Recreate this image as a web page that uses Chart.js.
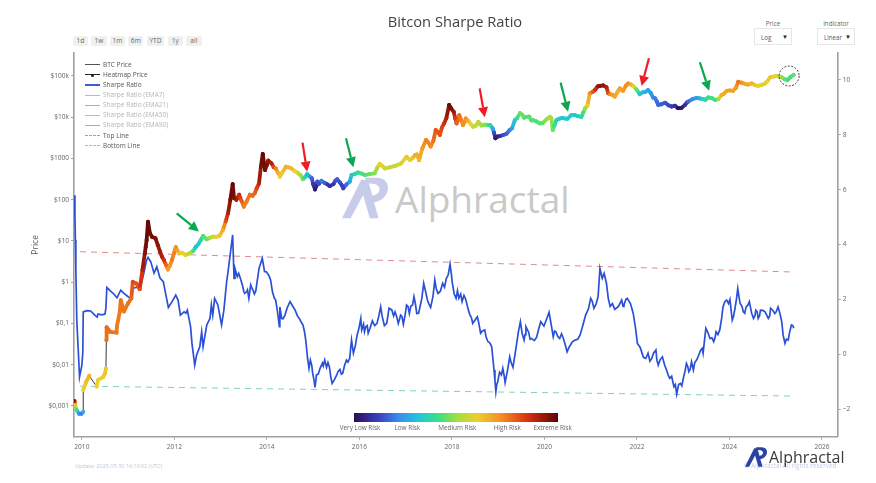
<!DOCTYPE html>
<html>
<head>
<meta charset="utf-8">
<title>Bitcon Sharpe Ratio</title>
<script src="https://cdn.jsdelivr.net/npm/chart.js@4"></script>
<style>
html, body { margin: 0; padding: 0; background: #fff; }
body { width: 876px; height: 483px; overflow: hidden; position: relative; font-family: "Open Sans", sans-serif; }
#chart { position: absolute; left: 0; top: 0; z-index: 2; }
.abs { position: absolute; white-space: nowrap; }
#title { left: 0; width: 910px; top: 11px; text-align: center; font-size: 14.7px; color: #444; z-index: 3; }
.rng { top: 36px; height: 10px; line-height: 10px; background: #f0f0f0; border-radius: 2px; color: #666; font-size: 6.6px; text-align: center; }
.sel-label { top: 19px; font-size: 6.2px; color: #666; text-align: center; }
.sel { top: 28px; height: 17px; line-height: 17px; border: 1px solid #e6e6e6; box-sizing: border-box; font-size: 6.2px; color: #555; padding-left: 6px; }
.sel i { position: absolute; right: 3px; top: 0; font-style: normal; font-size: 6px; color: #222; }
.lg-row { left: 103px; font-size: 6.5px; line-height: 10px; color: #555; z-index: 3; }
.lg-off { color: #b4b4b4; }
.lg-line { left: 84.5px; width: 15.5px; height: 0; z-index: 3; }
.lg-dot { left: 90.5px; width: 3px; height: 3px; border-radius: 50%; background: #222; z-index: 3; }
#wm-text { left: 395px; top: 175px; font-size: 37px; line-height: 48px; color: #c9c9c9; font-family: "Open Sans", sans-serif; z-index: 1; }
#wm-logo { left: 342px; top: 177px; width: 48px; height: 42px; z-index: 1; }
#bar { left: 354.3px; top: 413.3px; width: 203.4px; height: 8.4px; z-index: 3; }
.bar-lab { top: 423px; font-size: 6.4px; line-height: 9px; color: #666; transform: translateX(-50%); z-index: 3; }
#update { left: 75px; top: 462px; font-size: 5.4px; line-height: 8px; color: #bcc8dc; }
#logo { left: 745px; top: 447px; width: 23px; height: 20px; z-index: 3; }
#logo-text { left: 769px; top: 445px; font-size: 16px; line-height: 24px; color: #3a3a3a; z-index: 3; }
#rights { left: 744px; top: 461px; font-size: 6.4px; line-height: 9px; color: #c3cde0; z-index: 2; }
</style>
</head>
<body>
<svg id="wm-logo" class="abs" viewBox="0 0 50 42"><path fill="#c6cce9" d="M0 42L20 2L27 2L38 42L29 42L22 18L9 42Z"/><path fill="#c6cce9" d="M24 0L36 0C46 0 50 8 47 15C44 23 36 26 28 26L26 19C32 19 38 18 39 13C40 9 36 6 30 6L26 6Z"/></svg>
<div id="wm-text" class="abs">Alphractal</div>
<canvas id="chart" width="876" height="483"></canvas>
<div id="title" class="abs">Bitcon Sharpe Ratio</div>
<div id="controls"></div>
<div id="legend"></div>
<div id="bar" class="abs"></div>
<div id="bar-labels"></div>
<div id="update" class="abs">Update: 2025-05-30 16:10:02 (UTC)</div>
<div id="rights" class="abs">© Alphractal All rights reserved</div>
<svg id="logo" class="abs" viewBox="0 0 50 42"><path fill="#2c41a6" d="M0 42L20 2L27 2L38 42L29 42L22 18L9 42Z"/><path fill="#2c41a6" d="M24 0L36 0C46 0 50 8 47 15C44 23 36 26 28 26L26 19C32 19 38 18 39 13C40 9 36 6 30 6L26 6Z"/></svg>
<div id="logo-text" class="abs">Alphractal</div>

<script>
// Sharpe ratio: turning points first
const sharpeYears = [
  2009.83, 2009.85, 2009.86, 2009.87, 2009.89, 2009.95, 2010.00, 2010.02, 2010.03, 2010.11, 2010.19, 2010.28,
  2010.33, 2010.35, 2010.43, 2010.50, 2010.52, 2010.54, 2010.61, 2010.69, 2010.76, 2010.84, 2010.91, 2011.00,
  2011.05, 2011.10, 2011.12, 2011.27, 2011.34, 2011.40, 2011.43, 2011.49, 2011.56, 2011.62, 2011.69, 2011.76,
  2011.81, 2011.87, 2011.95, 2012.03, 2012.08, 2012.13, 2012.21, 2012.28, 2012.35, 2012.38, 2012.44, 2012.48,
  2012.55, 2012.59, 2012.62, 2012.70, 2012.77, 2012.80, 2012.83, 2012.87, 2012.94, 2013.02, 2013.07, 2013.13,
  2013.16, 2013.21, 2013.26, 2013.29, 2013.31, 2013.36, 2013.39, 2013.47, 2013.52, 2013.56, 2013.61, 2013.65,
  2013.70, 2013.76, 2013.83, 2013.90, 2013.95, 2013.99, 2014.08, 2014.12, 2014.19, 2014.27, 2014.28, 2014.32,
  2014.39, 2014.50, 2014.61, 2014.70, 2014.78, 2014.84, 2014.88, 2014.91, 2014.94, 2014.99, 2015.04, 2015.07,
  2015.15, 2015.25, 2015.29, 2015.35, 2015.41, 2015.51, 2015.58, 2015.64, 2015.72, 2015.79, 2015.83, 2015.87,
  2015.95, 2016.03, 2016.05, 2016.14, 2016.19, 2016.28, 2016.38, 2016.46, 2016.59, 2016.64, 2016.77, 2016.84,
  2016.89, 2016.95, 2017.02, 2017.08, 2017.18, 2017.24, 2017.31, 2017.39, 2017.47, 2017.54, 2017.63, 2017.70,
  2017.80, 2017.88, 2017.96, 2018.01, 2018.09, 2018.12, 2018.22, 2018.30, 2018.39, 2018.45, 2018.55, 2018.62,
  2018.71, 2018.78, 2018.86, 2018.91, 2018.95, 2018.99, 2019.10, 2019.15, 2019.25, 2019.32, 2019.40, 2019.48,
  2019.56, 2019.60, 2019.72, 2019.83, 2019.92, 2019.99, 2020.10, 2020.19, 2020.25, 2020.33, 2020.41, 2020.49,
  2020.66, 2020.77, 2020.89, 2021.00, 2021.07, 2021.16, 2021.20, 2021.25, 2021.29, 2021.38, 2021.52, 2021.67,
  2021.72, 2021.79, 2021.92, 2022.01, 2022.14, 2022.24, 2022.32, 2022.41, 2022.46, 2022.55, 2022.64, 2022.71,
  2022.80, 2022.86, 2022.94, 2023.01, 2023.07, 2023.12, 2023.18, 2023.22, 2023.29, 2023.38, 2023.43, 2023.49,
  2023.58, 2023.66, 2023.71, 2023.79, 2023.86, 2023.94, 2024.01, 2024.06, 2024.12, 2024.18, 2024.23, 2024.30,
  2024.36, 2024.43, 2024.52, 2024.57, 2024.62, 2024.67, 2024.77, 2024.84, 2024.89, 2024.98, 2025.05, 2025.13,
  2025.20, 2025.27, 2025.34, 2025.39
];
const sharpeValues = [
  5.80, 5.08, 4.17, 3.07, 1.25, -0.82, -0.39, 0.05, 1.55, 1.59, 1.58, 1.43,
  1.36, 1.47, 1.44, 1.47, 1.69, 2.44, 2.32, 2.20, 2.06, 2.34, 2.22, 2.10,
  2.05, 2.34, 2.42, 2.46, 2.96, 3.44, 3.53, 3.37, 2.96, 3.19, 2.78, 2.65,
  2.22, 1.71, 1.92, 2.16, 1.98, 1.43, 1.55, 1.61, 1.01, 0.40, -0.39, -0.03,
  0.28, 0.82, 0.28, 1.07, 1.31, 1.80, 1.43, 2.04, 1.80, 1.07, 1.61, 2.65,
  3.01, 3.68, 4.35, 2.77, 3.13, 2.83, 2.95, 2.53, 2.22, 2.28, 2.04, 2.53,
  2.34, 2.31, 3.13, 3.50, 3.01, 3.01, 2.71, 2.28, 1.98, 1.01, 1.73, 1.31,
  1.43, 1.92, 1.61, 1.31, 1.07, 0.52, -0.15, -0.51, -0.21, -0.69, -1.20, -0.75,
  -0.51, -0.21, -0.47, -0.45, -1.06, -0.75, -0.55, -0.69, -0.21, -0.15, 0.52, 0.04,
  0.70, 1.31, 0.89, 1.01, 0.77, 1.22, 1.13, 1.73, 1.13, 1.68, 1.55, 1.13,
  1.43, 1.10, 1.80, 1.49, 2.10, 1.49, 1.73, 2.59, 1.98, 1.71, 2.71, 2.22,
  2.59, 2.77, 3.29, 2.59, 2.04, 2.32, 1.92, 2.00, 1.43, 1.13, 1.37, 0.77,
  0.89, 0.46, 0.28, -0.57, -1.36, -1.00, -0.51, -1.03, -0.09, -0.47, 0.40, 1.19,
  0.52, 1.01, 0.58, 0.62, 1.19, 1.03, 1.53, 0.64, 0.82, 0.58, 0.58, 0.09,
  0.52, 0.70, 1.43, 2.04, 1.68, 2.10, 3.13, 2.77, 2.95, 2.04, 1.64, 1.98,
  1.80, 2.04, 1.49, 0.40, -0.11, 0.04, -0.15, 0.16, -0.39, -0.09, -0.57, -0.87,
  -1.18, -1.45, -1.06, -0.82, -0.33, -0.63, -0.27, -0.57, -0.21, 0.16, 0.04, 0.95,
  0.58, 0.46, 0.82, 0.89, 1.73, 1.98, 2.00, 1.25, 1.68, 2.40, 1.86, 1.55,
  1.73, 1.92, 1.31, 1.61, 1.31, 1.61, 1.55, 1.31, 1.68, 1.49, 1.73, 1.19,
  0.40, 0.52, 1.07, 0.95
];
// smaller wiggles between the turning points
const sharpeDetailYears = [
  2012.25, 2012.52, 2013.44, 2013.50, 2013.58, 2013.68, 2013.73, 2014.05, 2014.16, 2014.23, 2014.35, 2014.44,
  2014.55, 2014.66, 2014.74, 2014.81, 2014.97, 2015.02, 2015.06, 2015.11, 2015.20, 2015.22, 2015.32, 2015.38,
  2015.46, 2015.54, 2015.61, 2015.68, 2015.75, 2015.81, 2015.91, 2015.99, 2016.09, 2016.11, 2016.17, 2016.23,
  2016.33, 2016.42, 2016.49, 2016.54, 2016.62, 2016.70, 2016.74, 2016.81, 2016.87, 2016.92, 2016.99, 2017.05,
  2017.11, 2017.15, 2017.21, 2017.28, 2017.35, 2017.43, 2017.50, 2017.59, 2017.66, 2017.75, 2017.84, 2017.92,
  2017.99, 2018.05, 2018.15, 2018.19, 2018.26, 2018.35, 2018.42, 2018.50, 2018.58, 2018.66, 2018.74, 2018.82,
  2018.93, 2018.97, 2019.03, 2019.07, 2019.13, 2019.20, 2019.28, 2019.36, 2019.44, 2019.52, 2019.58, 2019.66,
  2019.69, 2019.78, 2019.88, 2019.96, 2020.05, 2020.15, 2020.22, 2020.29, 2020.37, 2020.45, 2020.53, 2020.60,
  2020.72, 2020.83, 2020.95, 2021.03, 2021.12, 2021.34, 2021.42, 2021.47, 2021.60, 2021.70, 2021.76, 2021.86,
  2021.97, 2022.07, 2022.10, 2022.19, 2022.28, 2022.36, 2022.43, 2022.50, 2022.60, 2022.68, 2022.75, 2022.83,
  2022.90, 2022.97, 2023.04, 2023.10, 2023.15, 2023.25, 2023.33, 2023.41, 2023.46, 2023.52, 2023.62, 2023.69,
  2023.75, 2023.83, 2023.90, 2023.98, 2024.04, 2024.09, 2024.15, 2024.21, 2024.27, 2024.33, 2024.40, 2024.48,
  2024.55, 2024.60, 2024.65, 2024.72, 2024.80, 2024.87, 2024.94, 2025.01, 2025.09, 2025.16, 2025.23, 2025.30,
  2025.37
];
const sharpeDetailValues = [
  1.50, 0.15, 2.70, 2.30, 2.35, 2.40, 2.20, 2.85, 2.05, 1.55, 1.30, 1.70,
  1.78, 1.40, 1.18, 0.85, -0.40, -0.95, -0.95, -0.72, -0.32, -0.42, -0.30, -0.80,
  -0.92, -0.62, -0.72, -0.40, -0.28, 0.20, 0.30, 0.95, 1.10, 0.82, 1.05, 0.95,
  1.05, 1.40, 1.40, 1.05, 1.45, 1.62, 1.40, 1.35, 1.30, 1.38, 1.45, 1.75,
  1.75, 1.80, 1.85, 1.50, 2.05, 2.30, 1.85, 2.10, 2.40, 2.30, 2.45, 2.90,
  2.90, 2.20, 2.05, 2.20, 2.15, 1.65, 1.35, 1.25, 1.15, 0.85, 0.62, 0.42,
  -0.95, -1.10, -0.65, -0.75, -0.78, -0.60, -0.30, -0.05, 0.85, 0.75, 0.72, 0.80,
  0.55, 0.50, 0.95, 1.10, 1.30, 1.05, 0.85, 0.65, 0.75, 0.35, 0.25, 0.45,
  0.55, 1.05, 1.65, 1.95, 1.85, 2.60, 1.75, 1.85, 1.75, 1.75, 2.00, 1.85,
  0.95, 0.25, 0.10, -0.15, -0.25, 0.05, -0.20, -0.20, -0.40, -0.78, -0.80, -1.10,
  -1.10, -1.15, -0.60, -0.45, -0.55, -0.30, -0.05, 0.22, 0.50, 0.85, 0.60, 0.62,
  0.72, 1.30, 1.92, 1.85, 1.55, 1.40, 2.00, 2.05, 1.75, 1.50, 1.80, 1.50,
  1.40, 1.55, 1.40, 1.60, 1.45, 1.40, 1.60, 1.55, 1.50, 0.70, 0.55, 0.80,
  1.05
];

// BTC price and its heat value (0 = very low risk, 1 = extreme risk)
const priceYears = [
  2009.83, 2009.85, 2009.89, 2009.94, 2009.99, 2010.03, 2010.03, 2010.09, 2010.16, 2010.32, 2010.35, 2010.46,
  2010.50, 2010.52, 2010.53, 2010.535, 2010.61, 2010.75, 2010.76, 2010.82, 2010.84, 2010.91, 2011.00, 2011.07,
  2011.10, 2011.18, 2011.25, 2011.31, 2011.36, 2011.38, 2011.40, 2011.43, 2011.47, 2011.59, 2011.69, 2011.77,
  2011.86, 2011.95, 2012.03, 2012.10, 2012.24, 2012.35, 2012.46, 2012.57, 2012.62, 2012.77, 2012.91, 2013.05,
  2013.16, 2013.21, 2013.26, 2013.29, 2013.40, 2013.50, 2013.63, 2013.74, 2013.83, 2013.87, 2013.91, 2013.96,
  2014.03, 2014.10, 2014.19, 2014.28, 2014.41, 2014.53, 2014.68, 2014.78, 2014.87, 2014.97, 2015.04, 2015.09,
  2015.18, 2015.36, 2015.52, 2015.65, 2015.79, 2015.83, 2015.97, 2016.12, 2016.33, 2016.44, 2016.55, 2016.77,
  2017.02, 2017.09, 2017.20, 2017.29, 2017.44, 2017.54, 2017.65, 2017.74, 2017.83, 2017.94, 2018.04, 2018.10,
  2018.16, 2018.24, 2018.30, 2018.46, 2018.57, 2018.64, 2018.78, 2018.88, 2018.94, 2019.11, 2019.25, 2019.36,
  2019.47, 2019.61, 2019.76, 2019.90, 2020.12, 2020.18, 2020.26, 2020.44, 2020.66, 2020.80, 2020.88, 2020.98,
  2021.05, 2021.20, 2021.34, 2021.42, 2021.52, 2021.63, 2021.70, 2021.81, 2021.92, 2022.06, 2022.24, 2022.39,
  2022.46, 2022.61, 2022.75, 2022.89, 2023.04, 2023.11, 2023.29, 2023.43, 2023.54, 2023.69, 2023.83, 2023.94,
  2024.08, 2024.19, 2024.33, 2024.48, 2024.62, 2024.77, 2024.88, 2025.02, 2025.13, 2025.25, 2025.39
];
const priceValues = [
  0.00132, 0.00105, 0.00079, 0.00065, 0.00065, 0.00072, 0.00245, 0.0038, 0.0054, 0.00295, 0.0043, 0.005,
  0.0062, 0.0081, 0.04, 0.081, 0.063, 0.06, 0.087, 0.195, 0.37, 0.195, 0.31, 0.41,
  1.02, 0.93, 0.68, 2.0, 5.0, 7.2, 10.5, 29.5, 15.5, 11.7, 5.5, 3.5,
  2.04, 3.5, 7.1, 5.0, 4.6, 5.2, 7.1, 10.5, 13.2, 12, 12.6, 18.6,
  47, 100, 240, 110, 132, 68, 132, 145, 250, 630, 1290, 525,
  890, 760, 575, 363, 630, 575, 437, 316, 417, 331, 178, 275,
  288, 214, 316, 190, 275, 398, 457, 398, 437, 741, 575, 660,
  1096, 912, 1200, 912, 2820, 1950, 4900, 3720, 7080, 19950, 13500, 7080,
  11200, 6460, 9330, 5890, 7760, 6310, 6460, 5370, 3090, 3720, 4900, 8510,
  12590, 10230, 8510, 7080, 10230, 4900, 8510, 9330, 11200, 10230, 16600, 38000,
  41700, 57500, 53700, 36300, 31600, 50100, 43700, 66000, 57500, 36300, 45700, 28800,
  20000, 22400, 18200, 16600, 20000, 24000, 29500, 27500, 30200, 26300, 34700, 43700,
  43700, 72400, 64600, 66000, 57500, 66000, 93300, 100000, 93300, 79400, 107000
];
const priceRisk = [
  .97, .62, .40, .22, .20, .28, .60, .63, .66, .60, .60, .61,
  .62, .62, .76, .77, .76, .75, .75, .75, .76, .75, .76, .77,
  .82, .80, .80, .90, .95, .97, .98, .99, .98, .96, .92, .86,
  .70, .75, .72, .62, .58, .52, .30, .36, .44, .52, .60, .66,
  .90, .97, .99, .96, .87, .74, .76, .78, .88, .96, .99, .97,
  .93, .90, .74, .60, .66, .64, .56, .45, .30, .17, .03, .14,
  .20, .08, .16, .12, .25, .33, .40, .44, .48, .60, .56, .55,
  .62, .60, .66, .64, .74, .72, .80, .80, .86, .98, .93, .78,
  .76, .72, .72, .56, .55, .50, .43, .28, .03, .14, .20, .34,
  .46, .44, .44, .44, .52, .46, .36, .33, .32, .38, .50, .72,
  .80, .95, .90, .72, .68, .68, .70, .72, .60, .33, .26, .20,
  .17, .15, .10, .01, .08, .18, .24, .36, .40, .42, .66, .68,
  .68, .76, .68, .65, .60, .58, .62, .60, .50, .42, .45
];
// in-between readings of the price path
const priceDetailYears = [
  2011.52, 2011.64, 2011.73, 2011.82, 2011.90, 2011.99, 2012.07, 2012.17, 2012.30, 2012.41, 2012.52, 2012.70,
  2012.84, 2012.98, 2013.11, 2013.34, 2013.45, 2013.56, 2013.69, 2013.78, 2014.00, 2014.15, 2014.24, 2014.33,
  2014.47, 2014.60, 2014.73, 2014.82, 2014.92, 2015.00, 2015.07, 2015.13, 2015.25, 2015.31, 2015.44, 2015.48,
  2015.58, 2015.62, 2015.72, 2015.90, 2016.05, 2016.22, 2016.38, 2016.50, 2016.66, 2016.90, 2017.15, 2017.24,
  2017.36, 2017.48, 2017.60, 2017.70, 2017.78, 2017.88, 2017.98, 2018.07, 2018.13, 2018.20, 2018.27, 2018.35,
  2018.40, 2018.52, 2018.60, 2018.70, 2018.83, 2018.91, 2018.98, 2019.04, 2019.18, 2019.30, 2019.41, 2019.52,
  2019.56, 2019.67, 2019.72, 2019.82, 2019.96, 2020.05, 2020.15, 2020.22, 2020.32, 2020.38, 2020.50, 2020.58,
  2020.72, 2020.84, 2020.93, 2021.10, 2021.15, 2021.27, 2021.38, 2021.47, 2021.58, 2021.66, 2021.76, 2021.87,
  2021.99, 2022.12, 2022.18, 2022.30, 2022.35, 2022.43, 2022.52, 2022.68, 2022.82, 2022.96, 2023.08, 2023.20,
  2023.36, 2023.48, 2023.62, 2023.76, 2023.88, 2024.01, 2024.14, 2024.26, 2024.40, 2024.55, 2024.70, 2024.82,
  2024.95, 2025.08, 2025.19, 2025.32
];
const priceDetailValues = [
  12.5, 8, 4.2, 2.6, 2.5, 5, 5.8, 5.2, 4.9, 5.8, 8.5, 11,
  12.8, 13.5, 30, 100, 95, 90, 125, 190, 700, 610, 450, 450,
  610, 500, 390, 350, 370, 240, 215, 245, 255, 235, 240, 290,
  260, 225, 235, 420, 430, 420, 580, 650, 610, 760, 1020, 1250,
  1750, 2500, 2700, 4300, 5500, 9500, 16500, 9500, 8500, 8600, 7600, 8200,
  7000, 6300, 7000, 6600, 6400, 4200, 3400, 3500, 4000, 5400, 9500, 11500,
  9800, 10400, 8300, 8000, 7200, 9000, 9500, 6500, 9200, 9600, 9200, 11200,
  10600, 13000, 19000, 47000, 56000, 59000, 38000, 35000, 41000, 47000, 58000, 62000,
  47000, 40000, 41000, 38500, 30000, 24000, 20500, 19500, 19000, 16800, 22800, 27500,
  28500, 26500, 29000, 27500, 37000, 45000, 52000, 69000, 62000, 60000, 61000, 75000,
  97000, 97000, 84000, 94000
];
const priceDetailRisk = [
  .97, .94, .90, .78, .70, .74, .68, .60, .55, .42, .33, .46,
  .55, .62, .80, .92, .80, .74, .77, .82, .96, .82, .66, .62,
  .65, .60, .50, .38, .24, .10, .06, .14, .16, .10, .10, .14,
  .14, .12, .18, .37, .42, .46, .52, .58, .55, .57, .62, .66,
  .70, .74, .76, .80, .82, .90, .97, .84, .78, .74, .72, .66,
  .60, .55, .52, .48, .38, .14, .05, .08, .16, .26, .40, .46,
  .44, .44, .43, .43, .45, .50, .52, .40, .34, .33, .33, .33,
  .34, .42, .60, .86, .92, .94, .82, .70, .66, .68, .72, .66,
  .45, .30, .28, .24, .22, .18, .16, .13, .08, .03, .12, .22,
  .30, .38, .42, .50, .67, .68, .70, .72, .67, .62, .58, .60,
  .60, .56, .45, .42
];
// only the thin BTC line shows on the segments starting at these indexes
const plainSegments = [5, 8, 13];

// dashed channel lines
const topLineYears = [2009.96, 2025.39];
const topLineValues = [3.74, 3.0];
const bottomLineYears = [2009.96, 2025.39];
const bottomLineValues = [-1.16, -1.52];

// axis ticks
const yearTicks = [2010, 2012, 2014, 2016, 2018, 2020, 2022, 2024, 2026];
const priceTickValues = [0.001, 0.01, 0.1, 1, 10, 100, 1000, 10000, 100000];
const priceTickLabels = ["$0,001", "$0,01", "$0,1", "$1", "$10", "$100", "$1000", "$10k", "$100k"];
const ratioTicks = [-2, 0, 2, 4, 6, 8, 10];

// arrows: [year, price] of tail and tip
const redArrowTails = [[2014.77, 2415], [2018.60, 50100], [2022.26, 269000]];
const redArrowTips = [[2014.87, 479], [2018.71, 10000], [2022.10, 57300]];
const greenArrowTails = [[2012.05, 46.8], [2015.71, 3090], [2020.35, 69000], [2023.36, 215000]];
const greenArrowTips = [[2012.53, 17], [2015.87, 616], [2020.51, 13650], [2023.56, 44000]];
const circleCentre = [2025.29, 100000];

const riskStops = [
  [0, "#2b0f54"], [0.12, "#3b3fc0"], [0.22, "#3a8ef0"], [0.32, "#1fc8d8"], [0.42, "#3fe07f"],
  [0.5, "#9be040"], [0.6, "#ecd030"], [0.72, "#f59020"], [0.85, "#d93010"], [1, "#5c0505"]
];

const rangeButtons = [["1d", 72.7, 15.3], ["1w", 91.3, 15.3], ["1m", 110, 15], ["6m", 128.3, 15], ["YTD", 146.7, 17.6], ["1y", 167.7, 15], ["all", 186, 15.7]];
const legendRows = [
  ["BTC Price", "solid", "#555", 1.3, 65, false],
  ["Heatmap Price", "solid", "#222", 1.5, 75, false],
  ["Sharpe Ratio", "solid", "#3a5fd0", 2, 85, false],
  ["Sharpe Ratio (EMA7)", "solid", "#e8a3a3", 1, 95, true],
  ["Sharpe Ratio (EMA21)", "solid", "#b3a3d3", 1, 105.2, true],
  ["Sharpe Ratio (EMA50)", "solid", "#8fd3b3", 1, 115.3, true],
  ["Sharpe Ratio (EMA90)", "solid", "#aaa", 1, 125.4, true],
  ["Top Line", "dashed", "#e08a8a", 1, 135.7, false],
  ["Bottom Line", "dashed", "#7fd0c0", 1, 145.7, false]
];
const barLabels = [["Very Low Risk", 360], ["Low Risk", 407.3], ["Medium Risk", 457.3], ["High Risk", 507.3], ["Extreme Risk", 552.7]];

function hexToRgb(h) {
  return [parseInt(h.slice(1, 3), 16), parseInt(h.slice(3, 5), 16), parseInt(h.slice(5, 7), 16)];
}

function riskColor(t) {
  for (var i = 1; i < riskStops.length; i++) {
    if (t <= riskStops[i][0]) {
      var a = riskStops[i - 1], b = riskStops[i];
      var f = (t - a[0]) / (b[0] - a[0]);
      var ca = hexToRgb(a[1]), cb = hexToRgb(b[1]);
      return "rgb(" + ca.map(function (v, k) { return Math.round(v + (cb[k] - v) * f); }).join(",") + ")";
    }
  }
  return riskStops[riskStops.length - 1][1];
}

// merge turning points and in-between readings in date order
function mergeByYear(xs, ys, moreXs, moreYs) {
  var rows = xs.map(function (x, i) { return { x: x, y: ys[i] }; })
    .concat(moreXs.map(function (x, i) { return { x: x, y: moreYs[i] }; }));
  return rows.sort(function (a, b) { return a.x - b.x; });
}

function pairs(xs, ys) {
  return xs.map(function (x, i) { return { x: x, y: ys[i] }; });
}

var sharpePoints = mergeByYear(sharpeYears, sharpeValues, sharpeDetailYears, sharpeDetailValues);
var pricePoints = priceYears.map(function (x, i) { return { x: x, y: priceValues[i], risk: priceRisk[i] }; })
  .concat(priceDetailYears.map(function (x, i) { return { x: x, y: priceDetailValues[i], risk: priceDetailRisk[i] }; }))
  .sort(function (a, b) { return a.x - b.x; });

/* ── page furniture ── */

function addDiv(parent, cls, text, css) {
  var d = document.createElement("div");
  d.className = "abs " + cls;
  d.textContent = text;
  Object.assign(d.style, css);
  parent.appendChild(d);
  return d;
}

var controls = document.getElementById("controls");
rangeButtons.forEach(function (b) {
  addDiv(controls, "rng", b[0], { left: b[1] + "px", width: b[2] + "px" });
});
addDiv(controls, "sel-label", "Price", { left: "754px", width: "38px" });
addDiv(controls, "sel-label", "Indicator", { left: "817px", width: "38px" });
addDiv(controls, "sel", "Log", { left: "754px", width: "38px" }).innerHTML = "Log<i>▼</i>";
addDiv(controls, "sel", "Linear", { left: "817px", width: "38px" }).innerHTML = "Linear<i>▼</i>";

var legend = document.getElementById("legend");
legendRows.forEach(function (r) {
  addDiv(legend, "lg-row" + (r[5] ? " lg-off" : ""), r[0], { top: (r[4] - 5) + "px" });
  addDiv(legend, "lg-line", "", { top: (r[4] - r[3] / 2) + "px", borderTop: r[3] + "px " + r[1] + " " + r[2] });
});
addDiv(legend, "lg-dot", "", { top: "73.5px" });

document.getElementById("bar").style.background = "linear-gradient(to right," +
  riskStops.map(function (s) { return s[1] + " " + (s[0] * 100) + "%"; }).join(",") + ")";
var barBox = document.getElementById("bar-labels");
barLabels.forEach(function (l) {
  addDiv(barBox, "bar-lab", l[0], { left: l[1] + "px" });
});

/* ── overlay: arrows and the dashed circle ── */

function drawArrow(c, x0, y0, x1, y1, color) {
  var ang = Math.atan2(y1 - y0, x1 - x0);
  var headLen = 10, headW = 5;
  var bx = x1 - Math.cos(ang) * headLen, by = y1 - Math.sin(ang) * headLen;
  c.strokeStyle = color;
  c.fillStyle = color;
  c.lineWidth = 2.2;
  c.beginPath();
  c.moveTo(x0, y0);
  c.lineTo(bx, by);
  c.stroke();
  c.beginPath();
  c.moveTo(x1, y1);
  c.lineTo(bx - Math.sin(ang) * headW, by + Math.cos(ang) * headW);
  c.lineTo(bx + Math.sin(ang) * headW, by - Math.cos(ang) * headW);
  c.closePath();
  c.fill();
}

var annotations = {
  id: "annotations",
  afterDatasetsDraw: function (chart) {
    var c = chart.ctx, xs = chart.scales.x, ys = chart.scales.yPrice;
    function arrows(tails, tips, color) {
      tails.forEach(function (t, i) {
        drawArrow(c, xs.getPixelForValue(t[0]), ys.getPixelForValue(t[1]),
          xs.getPixelForValue(tips[i][0]), ys.getPixelForValue(tips[i][1]), color);
      });
    }
    c.save();
    arrows(redArrowTails, redArrowTips, "#ee1c25");
    arrows(greenArrowTails, greenArrowTips, "#0aa650");
    c.strokeStyle = "#222";
    c.lineWidth = 0.9;
    c.setLineDash([2, 1.5]);
    c.beginPath();
    c.arc(xs.getPixelForValue(circleCentre[0]), ys.getPixelForValue(circleCentre[1]), 10, 0, Math.PI * 2);
    c.stroke();
    c.restore();
  }
};

/* ── chart ── */

var axisGrey = "#a0a0a0";
var tickFont = { family: "'Open Sans', sans-serif", size: 6.6 };

function axisGrid() {
  return { drawOnChartArea: false, drawTicks: true, tickLength: 3, color: axisGrey, lineWidth: 1 };
}

new Chart(document.getElementById("chart").getContext("2d"), {
  type: "scatter",
  data: {
    datasets: [
      {
        label: "Heatmap Price",
        yAxisID: "yPrice",
        data: pricePoints,
        showLine: true,
        borderWidth: 3.8,
        borderCapStyle: "round",
        borderJoinStyle: "round",
        borderColor: "#222",
        pointRadius: 1.9,
        pointBorderWidth: 0,
        pointBackgroundColor: function (ctx) { return riskColor(pricePoints[ctx.dataIndex].risk); },
        segment: {
          borderColor: function (ctx) {
            if (plainSegments.indexOf(ctx.p0DataIndex) >= 0) return "rgba(0,0,0,0)";
            return riskColor((pricePoints[ctx.p0DataIndex].risk + pricePoints[ctx.p1DataIndex].risk) / 2);
          }
        },
        order: 1
      },
      {
        label: "BTC Price",
        yAxisID: "yPrice",
        data: pricePoints,
        showLine: true,
        borderColor: "#3a3a3a",
        borderWidth: 1,
        pointRadius: 0,
        order: 2
      },
      {
        label: "Sharpe Ratio",
        yAxisID: "yRatio",
        data: sharpePoints,
        showLine: true,
        borderColor: "#2a50d8",
        borderWidth: 1.7,
        pointRadius: 0,
        order: 3
      },
      {
        label: "Top Line",
        yAxisID: "yRatio",
        data: pairs(topLineYears, topLineValues),
        showLine: true,
        borderColor: "#e08a8a",
        borderWidth: 1,
        borderDash: [6, 5],
        pointRadius: 0,
        order: 4
      },
      {
        label: "Bottom Line",
        yAxisID: "yRatio",
        data: pairs(bottomLineYears, bottomLineValues),
        showLine: true,
        borderColor: "#7fd0c0",
        borderWidth: 1,
        borderDash: [6, 5],
        pointRadius: 0,
        order: 5
      }
    ]
  },
  options: {
    responsive: false,
    animation: false,
    layout: { padding: { top: 53, left: 0, right: 0, bottom: 0 } },
    plugins: { legend: { display: false }, tooltip: { enabled: false } },
    scales: {
      x: {
        type: "linear",
        min: 2009.83,
        max: 2026.34,
        grid: axisGrid(),
        border: { color: axisGrey, width: 1.6 },
        afterBuildTicks: function (s) { s.ticks = yearTicks.map(function (v) { return { value: v }; }); },
        afterFit: function (s) { s.height = 46.3; },
        ticks: {
          autoSkip: false, maxRotation: 0, padding: 3, color: "#666", font: tickFont,
          callback: function (v) { return String(v); }
        }
      },
      yPrice: {
        type: "logarithmic",
        position: "left",
        min: 0.00018,
        max: 361000,
        grid: axisGrid(),
        border: { color: axisGrey, width: 1.6 },
        title: {
          display: true, text: "Price", color: "#555",
          font: { family: "'Open Sans', sans-serif", size: 8.5 },
          padding: { top: 30, bottom: 0 }
        },
        afterBuildTicks: function (s) { s.ticks = priceTickValues.map(function (v) { return { value: v }; }); },
        afterFit: function (s) { s.width = 74; },
        ticks: {
          autoSkip: false, padding: 2, color: "#666", font: tickFont,
          callback: function (v, i) { return priceTickLabels[i]; }
        }
      },
      yRatio: {
        type: "linear",
        position: "right",
        min: -3,
        max: 10.98,
        grid: axisGrid(),
        border: { color: axisGrey, width: 1.6 },
        afterBuildTicks: function (s) { s.ticks = ratioTicks.map(function (v) { return { value: v }; }); },
        afterFit: function (s) { s.width = 38.3; },
        ticks: {
          autoSkip: false, padding: 2, color: "#666", font: tickFont,
          callback: function (v) { return v < 0 ? "\u2212" + Math.abs(v) : String(v); }
        }
      }
    }
  },
  plugins: [annotations]
});
</script>
</body>
</html>
